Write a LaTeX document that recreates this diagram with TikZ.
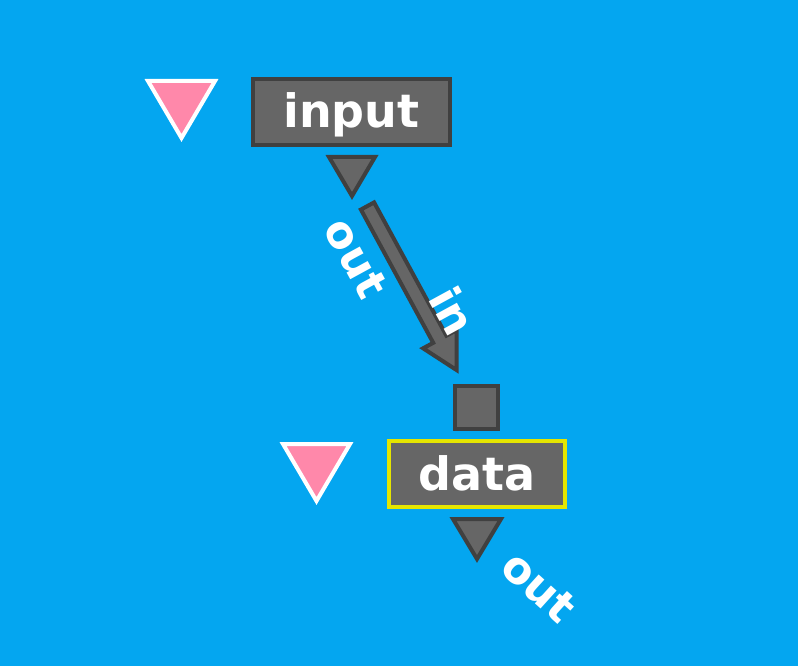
\documentclass[tikz,border=0pt]{standalone}
\usepackage{fontspec}
\setmainfont{DejaVu Sans}
\usetikzlibrary{calc}
\definecolor{bg}{RGB}{4,166,240}
\definecolor{edge}{RGB}{64,64,64}
\definecolor{body}{RGB}{102,102,102}
\definecolor{sel}{RGB}{229,229,0}
\definecolor{pink}{RGB}{255,136,170}
\tikzset{
  box/.style={draw=edge, fill=body, line width=4pt, text=white,
    font=\fontsize{46}{50}\selectfont\bfseries, inner sep=0pt,
    text height=32pt, text depth=0pt, minimum height=66pt},
  sock/.style={draw=edge, fill=body, line width=4pt, line join=miter},
  marker/.style={draw=white, fill=pink, line width=4pt, line join=miter},
  lbl/.style={text=white, font=\fontsize{44}{48}\selectfont\bfseries, inner sep=0pt}
}
\begin{document}
\begin{tikzpicture}[x=1pt,y=-1pt]
\path[fill=bg,use as bounding box] (0,0) rectangle (798,666);
% markers
\draw[marker] (148,81) -- (215,81) -- (181.5,138) -- cycle;
\draw[marker] (283,444) -- (350,444) -- (316.5,501) -- cycle;
% input node
\node[box, minimum width=197pt] (input) at (351.5,112) {input};
\draw[sock] (329,157) -- (375,157) -- (352,196) -- cycle;
% data node
\node[box, draw=sel, minimum width=176pt] (data) at (477,474) {data};
\node[sock, minimum width=43pt, minimum height=43pt, inner sep=0pt] (insq) at (476.5,407.5) {};
\draw[sock] (453,519) -- (501,519) -- (477,559) -- cycle;
% connector
\coordinate (s) at (367.5,206);
\coordinate (t) at (456.5,370);
\coordinate (b) at ($(t)!35pt!(s)$);
\draw[sock, line join=miter]
  ($(s)!7.5pt!-90:(t)$) -- ($(s)!7.5pt!90:(t)$) --
  ($(b)!7.5pt!90:(t)$) -- ($(b)!19pt!90:(t)$) -- (t) --
  ($(b)!19pt!-90:(t)$) -- ($(b)!7.5pt!-90:(t)$) -- cycle;
% labels
\node[lbl, rotate=-61.4] (lout1) at (356,258) {out};
\node[lbl, rotate=-61.4] (lin2) at (453,311) {in};
\node[lbl, rotate=-42] (lout2) at (539,587) {out};
\end{tikzpicture}
\end{document}
